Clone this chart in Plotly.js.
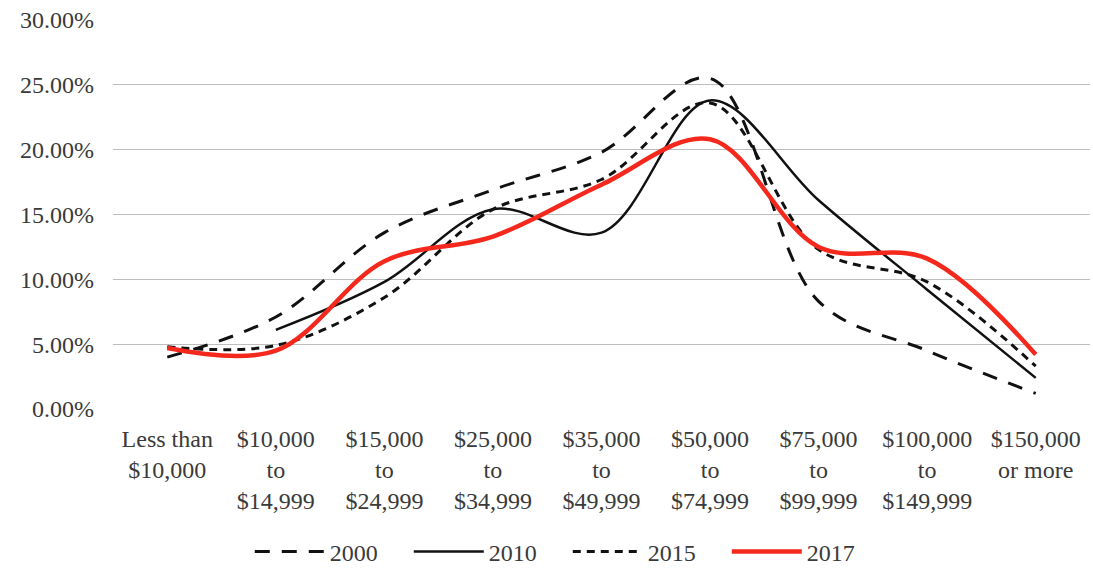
<!DOCTYPE html>
<html>
<head>
<meta charset="utf-8">
<script src="https://cdn.plot.ly/plotly-3.0.1.min.js"></script>
<style>html,body{margin:0;padding:0;background:#fff;}#chart{width:1093px;height:569px;}</style>
</head>
<body>
<div id="chart"></div>
<script>
var categories = [
  "Less than<br>$10,000",
  "$10,000<br>to<br>$14,999",
  "$15,000<br>to<br>$24,999",
  "$25,000<br>to<br>$34,999",
  "$35,000<br>to<br>$49,999",
  "$50,000<br>to<br>$74,999",
  "$75,000<br>to<br>$99,999",
  "$100,000<br>to<br>$149,999",
  "$150,000<br>or more"
];
var s2000 = [0.040, 0.071, 0.136, 0.169, 0.198, 0.255, 0.083, 0.045, 0.012];
var s2010 = [null, 0.061, 0.098, 0.154, 0.136, 0.238, 0.161, 0.092, 0.024];
var s2015 = [0.048, 0.049, 0.086, 0.154, 0.177, 0.236, 0.123, 0.098, 0.033];
var s2017 = [0.047, 0.045, 0.114, 0.133, 0.173, 0.208, 0.125, 0.116, 0.042];
var seriesNames = ["2000", "2010", "2015", "2017"];

var font = "Liberation Serif, Times New Roman, serif";
function tr(name, y, color, width, dash) {
  return {type: "scatter", mode: "lines", name: name, x: categories, y: y,
    line: {shape: "spline", smoothing: 1, color: color, width: width, dash: dash},
    connectgaps: false};
}
var data = [
  tr(seriesNames[0], s2000, "#111", 3, "15px,12px"),
  tr(seriesNames[1], s2010, "#111", 2.5, "solid"),
  tr(seriesNames[2], s2015, "#111", 3, "8px,6px"),
  tr(seriesNames[3], s2017, "#f4281c", 4.5, "solid")
];
var layout = {
  width: 1093, height: 569,
  margin: {l: 113, r: 3, t: 20, b: 160, autoexpand: false},
  paper_bgcolor: "#fff", plot_bgcolor: "#fff",
  font: {family: font, size: 24, color: "#3a3a3a"},
  showlegend: true,
  legend: {orientation: "h", x: 0.140, xanchor: "left", xref: "paper",
    y: 0.03, yref: "container", yanchor: "middle",
    font: {family: font, size: 24, color: "#3a3a3a"}, itemwidth: 70,
    entrywidth: 74, entrywidthmode: "pixels", traceorder: "normal"},
  xaxis: {type: "category", range: [-0.5, 8.5], showgrid: false, zeroline: false, showline: false,
    automargin: false,
    ticks: "", ticklabelstandoff: 13, tickfont: {family: font, size: 24, color: "#3a3a3a"},
    fixedrange: true},
  yaxis: {range: [0, 0.30], dtick: 0.05, tickformat: ".2%", showgrid: true, automargin: false,
    gridcolor: "#bdbdbd", gridwidth: 1, zeroline: false, showline: false, ticks: "",
    ticklabelstandoff: 18, tickfont: {family: font, size: 24, color: "#3a3a3a"},
    fixedrange: true}
};
Plotly.newPlot("chart", data, layout, {displayModeBar: false, staticPlot: true});
</script>
</body>
</html>
